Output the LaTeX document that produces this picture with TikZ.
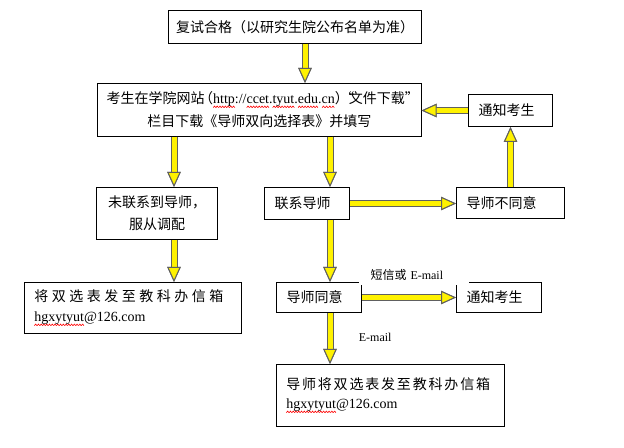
\documentclass[tikz,border=0pt]{standalone}
\usepackage{fontspec}
\usetikzlibrary{arrows.meta}
\setmainfont{Noto Sans CJK SC}
\newfontfamily\tnr{Liberation Serif}
\newfontfamily\cjkwide[LetterSpace=25]{Noto Sans CJK SC}
\newfontfamily\cjkmid[LetterSpace=13]{Noto Sans CJK SC}
\definecolor{arrowgray}{RGB}{96,96,96}
% red spell-check squiggle under a word
\newcommand\wavebit{\tikz[x=1pt,y=1pt,baseline=0pt]{\useasboundingbox (0,0) rectangle (2,1.2); \draw[red,line width=0.45pt] (0,0) -- (1,1.2) -- (2,0);}}
\newcommand\redwave[1]{\setbox0\hbox{#1}\leavevmode\rlap{\raisebox{-3pt}{\hbox to \wd0{\xleaders\hbox{\wavebit}\hfil}}}#1}

\tikzset{every picture/.style={line width=0.75pt}}
\tikzset{
  box/.style={draw, rectangle, anchor=north west, inner xsep=7.5pt, inner ysep=0pt, align=left, font=\fontsize{10.5pt}{16pt}\selectfont},
  yarrow/.style={draw=arrowgray, line width=5.25pt, -{Triangle[length=11.25pt, width=10pt, color=arrowgray, fill=yellow, line width=0.75pt]},
    postaction={draw=yellow, line width=3.75pt, -{Triangle[length=11.25pt, width=10pt, color=arrowgray, fill=yellow, line width=0.75pt]}}},
  lbl/.style={font=\fontsize{9pt}{11pt}\selectfont, inner sep=1pt}
}

\begin{document}
\begin{tikzpicture}[x=0.75pt,y=0.75pt,yscale=-1,xscale=1]
    \useasboundingbox (0,0) rectangle (624,448);

    % lanes of the vertical arrows
    \coordinate (lane1) at (305,0);
    \coordinate (lane2) at (174,0);
    \coordinate (lane3) at (330,0);

    % Text Node
    \node[box, inner xsep=4pt, text width=181.75pt, align=center, minimum height=24.75pt] (fushi) at (168,10) {复试合格（以研究生院公布名单为准）};
    % Text Node
    \node[box, inner xsep=4pt, text width=235pt, align=center, minimum height=39.75pt, font=\fontsize{10.5pt}{17.25pt}\selectfont] (xiazai) at (97,83)
      {考生在学院网站\kern-.4em（{\tnr\redwave{http}://\redwave{ccet}.\redwave{tyut}.\redwave{edu}.\redwave{cn}}）\kern-.6em“\kern-.4em文件下载”\kern-.5em\\栏目下载《导师双向选择表》并填写};
    % Text Node
    \node[box, text width=48pt, minimum height=24pt] (tongzhiA) at (468,94) {通知考生};
    % Text Node
    \node[box, text width=75.75pt, align=center, minimum height=39pt, font=\fontsize{10.5pt}{16.5pt}\selectfont] (weilianxi) at (96,187) {未联系到导师，\\服从调配};
    % Text Node
    \node[box, text width=48.75pt, minimum height=24pt] (lianxi) at (264,187) {联系导师};
    % Text Node
    \node[box, text width=66pt, minimum height=23.25pt] (butongyi) at (456,187) {导师不同意};
    % Text Node
    \node[box, text width=48.75pt, minimum height=22.5pt] (tongyi) at (276,282) {导师同意};
    % Text Node
    \node[box, text width=48.75pt, minimum height=22.5pt] (tongzhiB) at (456,282) {通知考生};
    % Text Node
    \node[box, text width=147.75pt, minimum height=38.25pt, font=\fontsize{10.5pt}{15pt}\selectfont] (fasongL) at (24,282)
      {{\cjkwide 将双选表发至教科办信箱}\\{\tnr\redwave{hgxytyut}@126.com}};
    % Text Node
    \node[box, text width=156pt, minimum height=46.5pt, font=\fontsize{10.5pt}{14.25pt}\selectfont] (fasongR) at (276,364)
      {{\cjkmid 导师将双选表发至教科办信箱}\\{\tnr\redwave{hgxytyut}@126.com}};

    % Arrows
    \draw[yarrow] (fushi.south -| lane1) -- (xiazai.north -| lane1);
    \draw[yarrow] (tongzhiA.west) -- (tongzhiA.west -| xiazai.east);
    \draw[yarrow] (xiazai.south -| lane2) -- (weilianxi.north -| lane2);
    \draw[yarrow] (xiazai.south -| lane3) -- (lianxi.north -| lane3);
    \draw[yarrow] (lianxi.east) -- (lianxi.east -| butongyi.west);
    \draw[yarrow] (butongyi.north) -- (tongzhiA.south);
    \draw[yarrow] (lianxi.south -| lane3) -- (tongyi.north -| lane3);
    \draw[yarrow] (tongyi.east) -- (tongzhiB.west);
    \draw[yarrow] (weilianxi.south -| lane2) -- (fasongL.north -| lane2);
    \draw[yarrow] (tongyi.south -| lane3) -- (fasongR.north -| lane3);

    % Text Node
    \node[lbl, fill=white, anchor=west, inner xsep=9pt, inner ysep=3pt, text width=64.5pt, align=left] (duanxin) at (358,275) {短信或 {\tnr E-mail}};
    % Text Node
    \node[lbl, anchor=west] (email) at (357,337) {{\tnr E-mail}};

\end{tikzpicture}
\end{document}
